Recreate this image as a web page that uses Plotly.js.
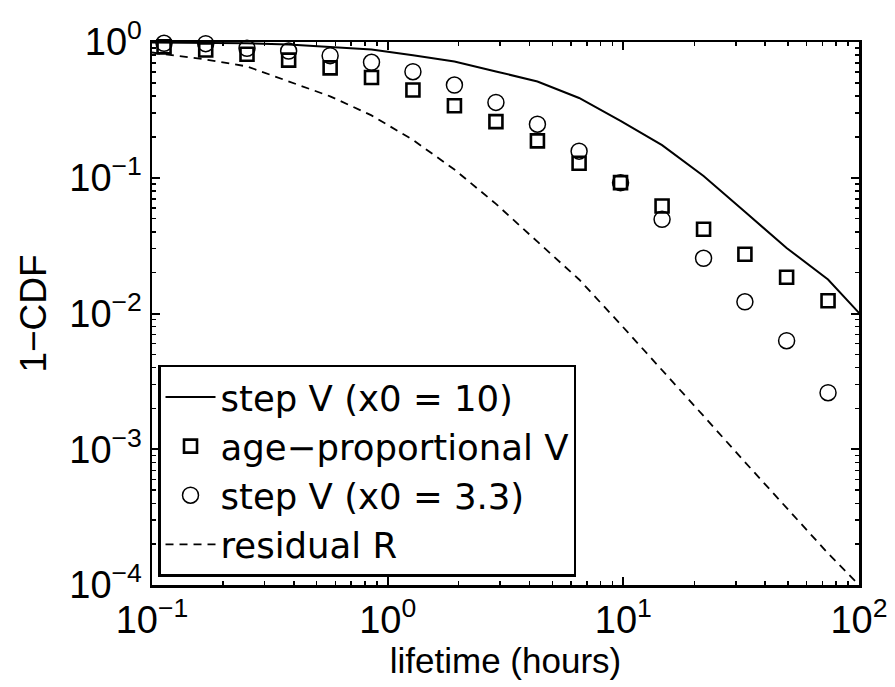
<!DOCTYPE html>
<html>
<head>
<meta charset="utf-8">
<script src="https://cdn.plot.ly/plotly-3.0.1.min.js"></script>
<style>html,body{margin:0;padding:0;background:#fff;}#chart{width:895px;height:687px;}</style>
</head>
<body>
<div id="chart"></div>
<script>
// lifetime (hours) at which the markers are placed
const xMarkers = [0.1125, 0.169, 0.253, 0.38, 0.57, 0.854, 1.28, 1.92, 2.88, 4.32, 6.49, 9.73, 14.6, 21.9, 32.8, 49.3, 73.9];
// age-proportional V (squares)
const ageProportional = [0.92, 0.873, 0.812, 0.735, 0.645, 0.548, 0.443, 0.339, 0.259, 0.187, 0.128, 0.092, 0.062, 0.0417, 0.0273, 0.0185, 0.0124];
// step V (x0 = 3.3) (circles)
const stepV33 = [0.978, 0.972, 0.899, 0.858, 0.793, 0.709, 0.604, 0.482, 0.359, 0.248, 0.157, 0.092, 0.0494, 0.0255, 0.0122, 0.0063, 0.00261];
// line x positions
const xLine = [0.1, 0.1125, 0.169, 0.253, 0.38, 0.57, 0.854, 1.28, 1.92, 2.88, 4.32, 6.49, 9.73, 14.6, 21.9, 32.8, 49.3, 73.9, 100];
// step V (x0 = 10) (solid line)
const stepV10 = [0.991, 0.990, 0.985, 0.978, 0.958, 0.923, 0.881, 0.80, 0.718, 0.607, 0.512, 0.387, 0.262, 0.174, 0.103, 0.0562, 0.0304, 0.0178, 0.0101];
// residual R (dashed line)
const residualR = [0.837, 0.816, 0.743, 0.661, 0.515, 0.398, 0.288, 0.190, 0.115, 0.0642, 0.0338, 0.0178, 0.00833, 0.00385, 0.00176, 0.000805, 0.000368, 0.000171, 0.0001];

// tick values and labels
const xTickVals = [0.1, 1, 10, 100];
const xTickText = ['10<sup>\u22121</sup>', '10<sup>0</sup>', '10<sup>1</sup>', '10<sup>2</sup>'];
const yTickVals = [0.0001, 0.001, 0.01, 0.1, 1];
const yTickText = ['10<sup>\u22124</sup>', '10<sup>\u22123</sup>', '10<sup>\u22122</sup>', '10<sup>\u22121</sup>', '10<sup>0</sup>'];

const names = ['step V (x0 = 10)', 'age\u2212proportional V', 'step V (x0 = 3.3)', 'residual R'];

function minorTicks(lo, hi) {
  const out = [];
  for (let e = lo; e < hi; e++) for (let d = 2; d <= 9; d++) out.push(d * Math.pow(10, e));
  return out;
}

const traces = [
  {x: xLine, y: stepV10, type: 'scatter', mode: 'lines', name: names[0],
   line: {color: '#000', width: 2}},
  {x: xMarkers, y: ageProportional, type: 'scatter', mode: 'markers', name: names[1], cliponaxis: false,
   marker: {symbol: 'square-open', size: 13, color: '#000', line: {width: 2.6, color: '#000'}}},
  {x: xMarkers, y: stepV33, type: 'scatter', mode: 'markers', name: names[2], cliponaxis: false,
   marker: {symbol: 'circle-open', size: 16, color: '#000', line: {width: 1.5, color: '#000'}}},
  {x: xLine, y: residualR, type: 'scatter', mode: 'lines', name: names[3],
   line: {color: '#000', width: 1.8, dash: '8px,6px'}}
];

const tickFont = {family: 'Liberation Sans, Arial, sans-serif', size: 38, color: '#000'};
const axisCommon = {
  type: 'log', showgrid: false, zeroline: false,
  showline: true, linecolor: '#000', linewidth: 2.5, mirror: 'allticks',
  ticks: 'inside', ticklen: 8, tickwidth: 2, tickcolor: '#000',
  tickfont: tickFont
};

const layout = {
  width: 895, height: 687,
  margin: {l: 152, r: 36, t: 42, b: 102},
  paper_bgcolor: '#fff', plot_bgcolor: '#fff',
  showlegend: true,
  xaxis: Object.assign({}, axisCommon, {
    range: [-1, 2], tickmode: 'array', tickvals: xTickVals, ticktext: xTickText,
    minor: {tickmode: 'array', tickvals: minorTicks(-1, 2), ticks: 'inside', ticklen: 4, tickwidth: 1.5, tickcolor: '#000', showgrid: false},
    title: {text: 'lifetime (hours)', font: {family: 'Liberation Sans, Arial, sans-serif', size: 35, color: '#000'}, standoff: 0}
  }),
  yaxis: Object.assign({}, axisCommon, {
    range: [-4, 0], tickmode: 'array', tickvals: yTickVals, ticktext: yTickText,
    minor: {tickmode: 'array', tickvals: minorTicks(-4, 0), ticks: 'inside', ticklen: 4, tickwidth: 1.5, tickcolor: '#000', showgrid: false},
    title: {text: '1\u2212CDF', font: {family: 'Liberation Sans, Arial, sans-serif', size: 37, color: '#000'}, standoff: 12}
  }),
  legend: {
    x: 0.0085, y: 0.015, xanchor: 'left', yanchor: 'bottom',
    bgcolor: '#fff', bordercolor: '#000', borderwidth: 2.5,
    font: {family: 'DejaVu Sans, sans-serif', size: 35.5, color: '#000'},
    itemwidth: 50, itemsizing: 'trace', tracegroupgap: 0
  }
};

Plotly.newPlot('chart', traces, layout, {displayModeBar: false, staticPlot: true});
</script>
</body>
</html>
